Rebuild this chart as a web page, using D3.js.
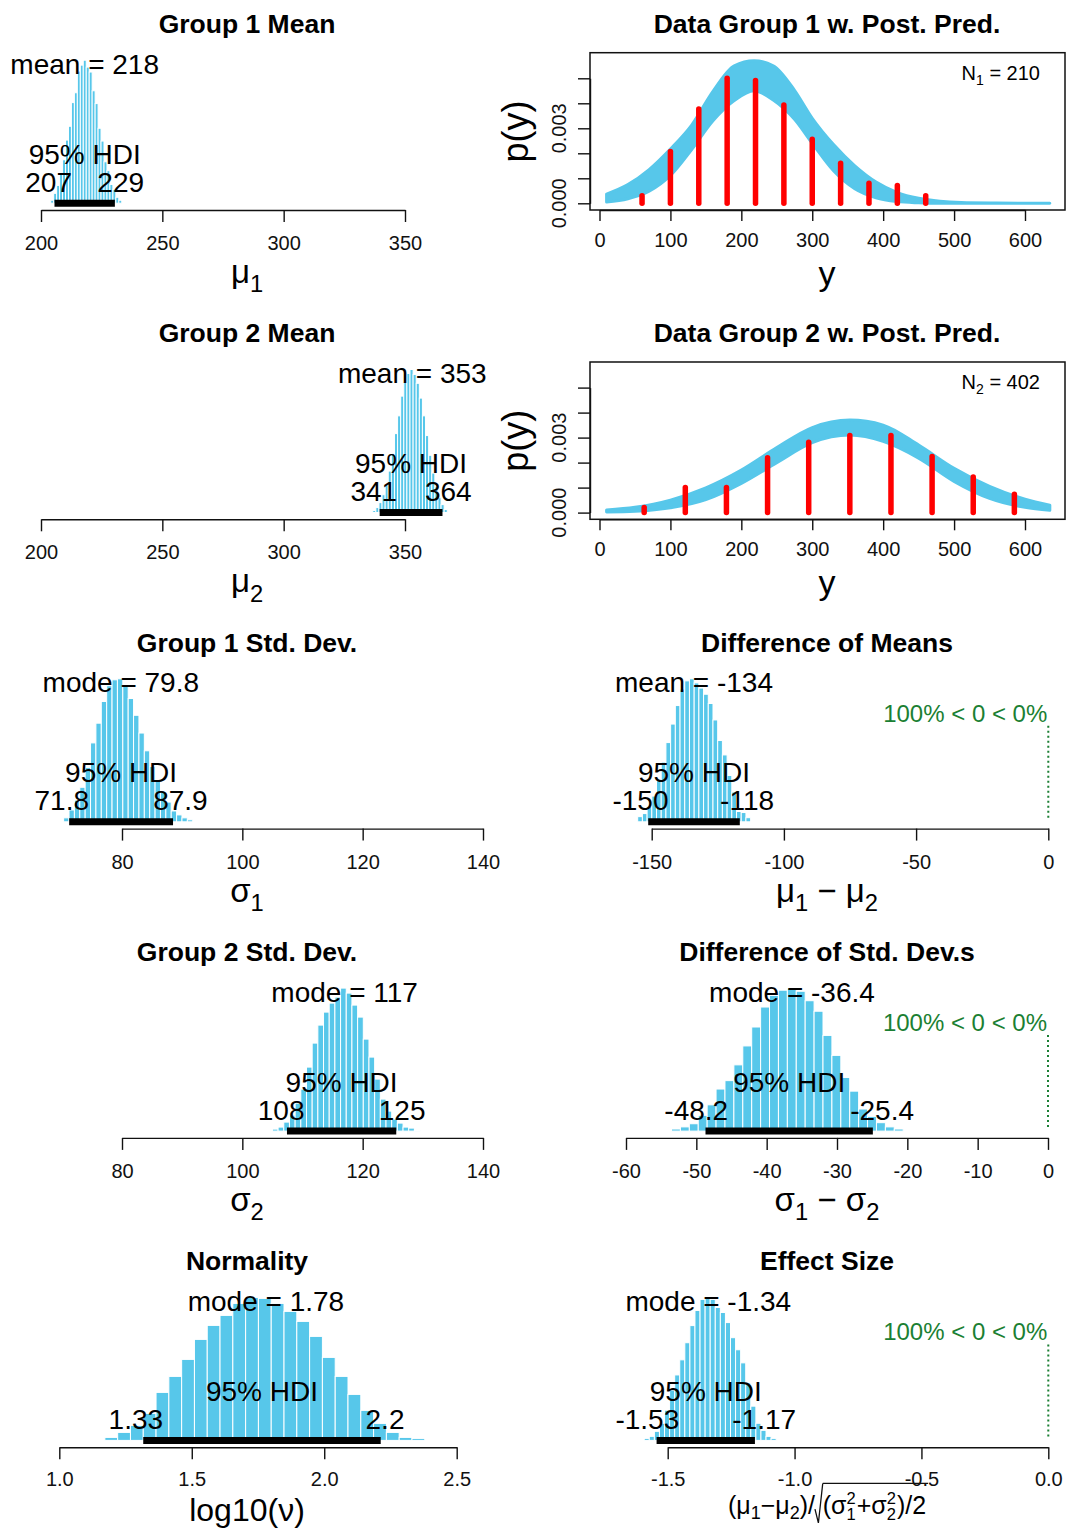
<!DOCTYPE html>
<html><head><meta charset="utf-8">
<script src="https://cdn.jsdelivr.net/npm/d3@7"></script>
<style>body{margin:0;background:#fff;} svg{display:block;font-family:"Liberation Sans",Arial,Helvetica,sans-serif;}</style>
</head><body>
<svg id="c" width="1067" height="1528"></svg>
<script>
// ---------------- DATA ----------------
// Posterior histograms: first bin start, bin width, relative counts
const mu1Start = 204.0, mu1Width = 1.22;
const mu1Counts = [3, 10, 18, 30, 44, 64, 78, 102, 112, 134, 140, 145, 138, 133, 114, 101, 76, 63, 42, 33, 19, 14, 6, 3];
const mu2Start = 336.7, mu2Width = 1.28;
const mu2Counts = [2, 5, 10, 18, 28, 42, 60, 80, 98, 118, 132, 141, 145, 140, 131, 116, 98, 78, 58, 40, 26, 15, 8, 3];
const sigma1Start = 70.3, sigma1Width = 0.894;
const sigma1Counts = [4, 12, 22, 35, 55, 80, 100, 122, 138, 144, 145, 138, 125, 108, 90, 72, 56, 42, 30, 20, 11, 7, 4, 2];
const sigma2Start = 105.0, sigma2Width = 0.944;
const sigma2Counts = [2, 4, 9, 16, 28, 42, 64, 88, 106, 119, 128, 134, 143, 138, 126, 114, 92, 74, 52, 32, 20, 12, 8, 4, 3, 1];
const nuStart = 1.172, nuWidth = 0.0483;
const nuCounts = [3, 8, 15, 27, 48, 64, 81, 101, 115, 125, 137, 143, 142, 137, 129, 119, 104, 83, 64, 46, 30, 17, 8, 3, 2];
const diffMuStart = -155.3, diffMuWidth = 1.78;
const diffMuCounts = [5, 8, 15, 25, 40, 58, 77, 95, 113, 129, 137, 139, 135, 130, 124, 115, 99, 79, 65, 45, 29, 10, 9, 4];
const diffSigmaStart = -53.53, diffSigmaWidth = 1.267;
const diffSigmaCounts = [2, 4, 7, 15, 25, 40, 48, 63, 81, 99, 118, 129, 134, 136, 133, 124, 114, 91, 72, 51, 38, 21, 14, 8, 4, 2];
const effStart = -1.5925, effWidth = 0.02;
const effCounts = [2, 4, 9, 17, 30, 50, 65, 80, 97, 114, 129, 140, 142, 140, 132, 127, 117, 102, 90, 77, 57, 34, 17, 10, 4, 2];

// Summary statistics: [central value, HDI low, HDI high]
const mu1Stats = [218, 207, 229];
const mu2Stats = [353, 341, 364];
const sigma1Stats = [79.8, 71.8, 87.9];
const sigma2Stats = [117, 108, 125];
const nuStats = [1.78, 1.33, 2.2];
const diffMuStats = [-134, -150, -118];
const diffSigmaStats = [-36.4, -48.2, -25.4];
const effStats = [-1.34, -1.53, -1.17];
const compText = "100% < 0 < 0%";

// Axis ticks
const muTicks = [200, 250, 300, 350];
const sigmaTicks = [80, 100, 120, 140];
const nuTicks = [1.0, 1.5, 2.0, 2.5];
const nuTickLabels = ["1.0", "1.5", "2.0", "2.5"];
const diffMuTicks = [-150, -100, -50, 0];
const diffSigmaTicks = [-60, -50, -40, -30, -20, -10, 0];
const effTicks = [-1.5, -1.0, -0.5, 0.0];
const effTickLabels = ["-1.5", "-1.0", "-0.5", "0.0"];
const yTicks = [0, 100, 200, 300, 400, 500, 600];
const pyTicks = [0, 0.001, 0.002, 0.003, 0.004, 0.005];

// Data histograms (red) and posterior predictive band (blue)
const dataMid1 = [60, 100, 140, 180, 220, 260, 300, 340, 380, 420, 460];
const dataDens1 = [0.0003, 0.00207, 0.00377, 0.0050, 0.00491, 0.00393, 0.00256, 0.0016, 0.0008, 0.00071, 0.0003];
const dataMid2 = [63, 121, 179, 237, 295, 353, 411, 469, 527, 585];
const dataDens2 = [0.0002, 0.001, 0.001, 0.00219, 0.00281, 0.00308, 0.00308, 0.00224, 0.00142, 0.00073];
const ppX1 = [10, 40, 70, 100, 130, 160, 190, 218, 245, 275, 300, 330, 360, 390, 420, 450, 480, 510, 560, 635];
const ppLo1 = [0.00005, 0.00018, 0.00048, 0.00111, 0.00215, 0.0033, 0.00411, 0.0045, 0.00413, 0.00336, 0.0024, 0.0013, 0.00058, 0.00022, 0.00007, 0.00002, 0, 0, 0, 0];
const ppHi1 = [0.00037, 0.00075, 0.00135, 0.00217, 0.00313, 0.00448, 0.0055, 0.0057, 0.0055, 0.00452, 0.0034, 0.00235, 0.0015, 0.00085, 0.00043, 0.0002, 0.00008, 0.00003, 0.00001, 0];
const ppX2 = [10, 50, 100, 150, 200, 250, 300, 353, 400, 450, 500, 550, 600, 635];
const ppLo2 = [0.00002, 0.00005, 0.00019, 0.00052, 0.00117, 0.002, 0.0028, 0.0031, 0.00285, 0.00218, 0.00125, 0.00057, 0.00021, 0.00009];
const ppHi2 = [0.0001, 0.00021, 0.0005, 0.00099, 0.0017, 0.0026, 0.0034, 0.0037, 0.0035, 0.0027, 0.00177, 0.00105, 0.00054, 0.0003];
const groupN = [210, 402];

// ---------------- LAYOUT / STYLE ----------------
const ROW = 309.3, BASE = 203.2, AXY = 210, BARMAX = 143;
const BLUE = "#57C7EA", GREEN = "#1b7f33";
const FONT = '"Liberation Sans", Arial, Helvetica, sans-serif';
const svg = d3.select("#c");

function txt(g, x, y, s, size, o = {}) {
  const t = g.append("text").attr("x", x).attr("y", y).attr("font-size", size)
    .style("white-space", "pre").text(s);
  if (o.anchor) t.attr("text-anchor", o.anchor);
  if (o.weight) t.attr("font-weight", o.weight);
  if (o.fill) t.attr("fill", o.fill);
  return t;
}

function mathLabel(g, parts, cx, by, size, subOff = 0.28) {
  const grp = g.append("g");
  let xp = 0, radStart = 0;
  for (const p of parts) {
    if (p.rad === "start") {
      const w = size * 0.31;
      grp.append("path")
        .attr("d", `M${xp},${by - size * 0.2} L${xp + w * 0.44},${by + size * 0.35} L${xp + w},${by - size * 1.23}`)
        .attr("fill", "none").attr("stroke", "#111").attr("stroke-width", 1.3);
      xp += w; radStart = xp; continue;
    }
    if (p.rad === "end") {
      grp.append("line").attr("x1", radStart).attr("x2", xp + 2)
        .attr("y1", by - size * 1.23).attr("y2", by - size * 1.23)
        .attr("stroke", "#111").attr("stroke-width", 1.3);
      continue;
    }
    if (p.stack) {
      const fs = size * 0.66;
      const a = txt(grp, xp, by + size * 0.22, p.stack[0], fs);
      const b = txt(grp, xp, by - size * 0.42, p.stack[1], fs);
      xp += Math.max(a.node().getComputedTextLength(), b.node().getComputedTextLength()) + 1;
      continue;
    }
    const fs = p.sub ? size * 0.72 : size;
    const t = txt(grp, xp, by + (p.sub ? size * subOff : 0), p.t, fs);
    xp += t.node().getComputedTextLength();
  }
  grp.attr("transform", `translate(${cx - xp / 2},0)`);
}

function histPanel(p) {
  const g = svg.append("g").attr("transform", `translate(0,${p.row * ROW})`);
  const cx = p.col === 0 ? 247 : 827;
  txt(g, cx, 33, p.title, 26.5, {anchor: "middle", weight: "bold"});
  const x = d3.scaleLinear().domain(p.domain).range(p.range);
  const y = d3.scaleLinear().domain([0, d3.max(p.counts)]).range([BASE, BASE - BARMAX]);
  const bins = p.counts.map((c, i) => ({x0: p.start + i * p.width, x1: p.start + (i + 1) * p.width, c}));
  g.append("g").selectAll("rect").data(bins).join("rect")
    .attr("x", d => x(d.x0)).attr("width", d => x(d.x1) - x(d.x0))
    .attr("y", d => y(d.c)).attr("height", d => y(0) - y(d.c))
    .attr("fill", BLUE).attr("stroke", "#fff").attr("stroke-width", 1);
  const axis = d3.axisBottom(x).tickValues(p.ticks)
    .tickFormat((d, i) => p.tickLabels ? p.tickLabels[i] : String(d))
    .tickSize(12).tickSizeOuter(0).tickPadding(p.tickPad || 13.8);
  const ag = g.append("g").attr("transform", `translate(0,${AXY})`).call(axis);
  ag.attr("font-size", 20).attr("font-family", FONT);
  ag.selectAll("path,line").attr("stroke", "#111").attr("stroke-width", 1.4);
  ag.selectAll("text").attr("fill", "#111");
  g.append("line").attr("x1", x(p.stats[1])).attr("x2", x(p.stats[2]))
    .attr("y1", BASE).attr("y2", BASE).attr("stroke", "#000")
    .attr("stroke-width", 7).attr("stroke-linecap", "square");
  txt(g, x(p.stats[0]), BASE - 129.5, `${p.kind} = ${p.stats[0]}`, 28, {anchor: "middle"});
  txt(g, (x(p.stats[1]) + x(p.stats[2])) / 2, BASE - 39.5, "95% HDI", 28, {anchor: "middle"});
  const lo = txt(g, 0, BASE - 11.5, String(p.stats[1]), 28);
  lo.attr("x", x(p.stats[1]) - 0.7 * lo.node().getComputedTextLength());
  const hi = txt(g, 0, BASE - 11.5, String(p.stats[2]), 28);
  hi.attr("x", x(p.stats[2]) - 0.3 * hi.node().getComputedTextLength());
  if (p.comp !== undefined) {
    txt(g, x(p.comp) - 1, BASE - 100, compText, 24, {anchor: "end", fill: GREEN});
    g.append("line").attr("x1", x(p.comp)).attr("x2", x(p.comp))
      .attr("y1", BASE - 96).attr("y2", BASE - 4)
      .attr("stroke", GREEN).attr("stroke-width", 2).attr("stroke-dasharray", "2,3");
  }
  if (p.xlabel.length) mathLabel(g, p.xlabel, cx, p.xlabelY || 283, p.xlabelSize || 33);
}

function ppPanel(p) {
  const g = svg.append("g").attr("transform", `translate(0,${p.row * ROW})`);
  txt(g, 827, 33, p.title, 26.5, {anchor: "middle", weight: "bold"});
  const x = d3.scaleLinear().domain([0, 600]).range([599.5, 1025]);
  const y = d3.scaleLinear().domain([0, 0.005]).range([203.3, 78.3]);
  const band = p.bx.map((v, i) => ({x: v, lo: p.blo[i], hi: p.bhi[i]}));
  g.append("path").datum(band)
    .attr("d", d3.area().x(d => x(d.x)).y0(d => y(d.lo)).y1(d => y(d.hi)).curve(d3.curveMonotoneX))
    .attr("fill", BLUE).attr("stroke", BLUE).attr("stroke-width", 3).attr("stroke-linejoin", "round");
  g.append("g").selectAll("line").data(p.mids.map((m, i) => ({m, d: p.dens[i]}))).join("line")
    .attr("x1", d => x(d.m)).attr("x2", d => x(d.m))
    .attr("y1", y(0)).attr("y2", d => y(d.d))
    .attr("stroke", "#ff0000").attr("stroke-width", 5.5).attr("stroke-linecap", "round");
  g.append("rect").attr("x", 590).attr("y", 52.7).attr("width", 475).attr("height", 157.3)
    .attr("fill", "none").attr("stroke", "#111").attr("stroke-width", 1.5);
  const ax = g.append("g").attr("transform", "translate(0,210)")
    .call(d3.axisBottom(x).tickValues(yTicks).tickSize(11).tickSizeOuter(0).tickPadding(11.8));
  ax.attr("font-size", 20).attr("font-family", FONT);
  ax.selectAll("path,line").attr("stroke", "#111").attr("stroke-width", 1.4);
  ax.selectAll("text").attr("fill", "#111");
  const ay = g.append("g").attr("transform", "translate(590,0)")
    .call(d3.axisLeft(y).tickValues(pyTicks).tickFormat("").tickSize(12).tickSizeOuter(0));
  ay.selectAll("path,line").attr("stroke", "#111").attr("stroke-width", 1.4);
  const fmt = d3.format(".3f");
  pyTicks.forEach((v, i) => {
    if (i % 3 === 0) {
      txt(g, 0, 0, fmt(v), 20, {anchor: "middle"}).attr("fill", "#111")
        .attr("transform", `translate(566,${y(v)}) rotate(-90)`);
    }
  });
  txt(g, 0, 0, "p(y)", 36, {anchor: "middle"}).attr("transform", "translate(528,131.5) rotate(-90)");
  const nt = g.append("text").attr("x", 1040).attr("y", 80).attr("text-anchor", "end")
    .attr("font-size", 20).style("white-space", "pre");
  nt.append("tspan").text("N");
  nt.append("tspan").attr("font-size", 14).attr("dy", 5).text(p.sub);
  nt.append("tspan").attr("dy", -5).text(" = " + p.n);
  mathLabel(g, [{t: "y"}], 827, 285, 34);
}

// ---------------- DRAW ----------------
ppPanel({row: 0, title: "Data Group 1 w. Post. Pred.", bx: ppX1, blo: ppLo1, bhi: ppHi1, mids: dataMid1, dens: dataDens1, sub: "1", n: groupN[0]});
ppPanel({row: 1, title: "Data Group 2 w. Post. Pred.", bx: ppX2, blo: ppLo2, bhi: ppHi2, mids: dataMid2, dens: dataDens2, sub: "2", n: groupN[1]});

histPanel({row: 0, col: 0, title: "Group 1 Mean", start: mu1Start, width: mu1Width, counts: mu1Counts,
  domain: [200, 350], range: [41, 405], ticks: muTicks, kind: "mean", stats: mu1Stats,
  xlabel: [{t: "μ"}, {t: "1", sub: true}]});
histPanel({row: 1, col: 0, title: "Group 2 Mean", start: mu2Start, width: mu2Width, counts: mu2Counts,
  domain: [200, 350], range: [41, 405], ticks: muTicks, kind: "mean", stats: mu2Stats,
  xlabel: [{t: "μ"}, {t: "2", sub: true}]});
histPanel({row: 2, col: 0, title: "Group 1 Std. Dev.", start: sigma1Start, width: sigma1Width, counts: sigma1Counts,
  domain: [80, 140], range: [122, 483], ticks: sigmaTicks, kind: "mode", stats: sigma1Stats,
  xlabel: [{t: "σ"}, {t: "1", sub: true}]});
histPanel({row: 3, col: 0, title: "Group 2 Std. Dev.", start: sigma2Start, width: sigma2Width, counts: sigma2Counts,
  domain: [80, 140], range: [122, 483], ticks: sigmaTicks, kind: "mode", stats: sigma2Stats,
  xlabel: [{t: "σ"}, {t: "2", sub: true}]});
histPanel({row: 4, col: 0, title: "Normality", start: nuStart, width: nuWidth, counts: nuCounts,
  domain: [1, 2.5], range: [59.3, 456.7], ticks: nuTicks, tickLabels: nuTickLabels, kind: "mode", stats: nuStats,
  xlabel: [{t: "log10(ν)"}], xlabelSize: 32, xlabelY: 284, tickPad: 12.3});
histPanel({row: 2, col: 1, title: "Difference of Means", start: diffMuStart, width: diffMuWidth, counts: diffMuCounts,
  domain: [-150, 0], range: [651.7, 1048.3], ticks: diffMuTicks, kind: "mean", stats: diffMuStats, comp: 0,
  xlabel: [{t: "μ"}, {t: "1", sub: true}, {t: " − μ"}, {t: "2", sub: true}]});
histPanel({row: 3, col: 1, title: "Difference of Std. Dev.s", start: diffSigmaStart, width: diffSigmaWidth, counts: diffSigmaCounts,
  domain: [-60, 0], range: [626, 1048], ticks: diffSigmaTicks, kind: "mode", stats: diffSigmaStats, comp: 0,
  xlabel: [{t: "σ"}, {t: "1", sub: true}, {t: " − σ"}, {t: "2", sub: true}]});
histPanel({row: 4, col: 1, title: "Effect Size", start: effStart, width: effWidth, counts: effCounts,
  domain: [-1.5, 0], range: [667.7, 1048.3], ticks: effTicks, tickLabels: effTickLabels, kind: "mode", stats: effStats, comp: 0,
  xlabel: [], tickPad: 12.3});
// effect size label (smaller, with radical)
mathLabel(svg.append("g").attr("transform", `translate(0,${4 * ROW})`),
  [{t: "(μ"}, {t: "1", sub: true}, {t: "−μ"}, {t: "2", sub: true}, {t: ")/"}, {rad: "start"},
   {t: "(σ"}, {stack: ["1", "2"]}, {t: "+σ"}, {stack: ["2", "2"]}, {t: ")/2"}, {rad: "end"}],
  827, 277, 25, 0.2);
</script>
</body></html>
